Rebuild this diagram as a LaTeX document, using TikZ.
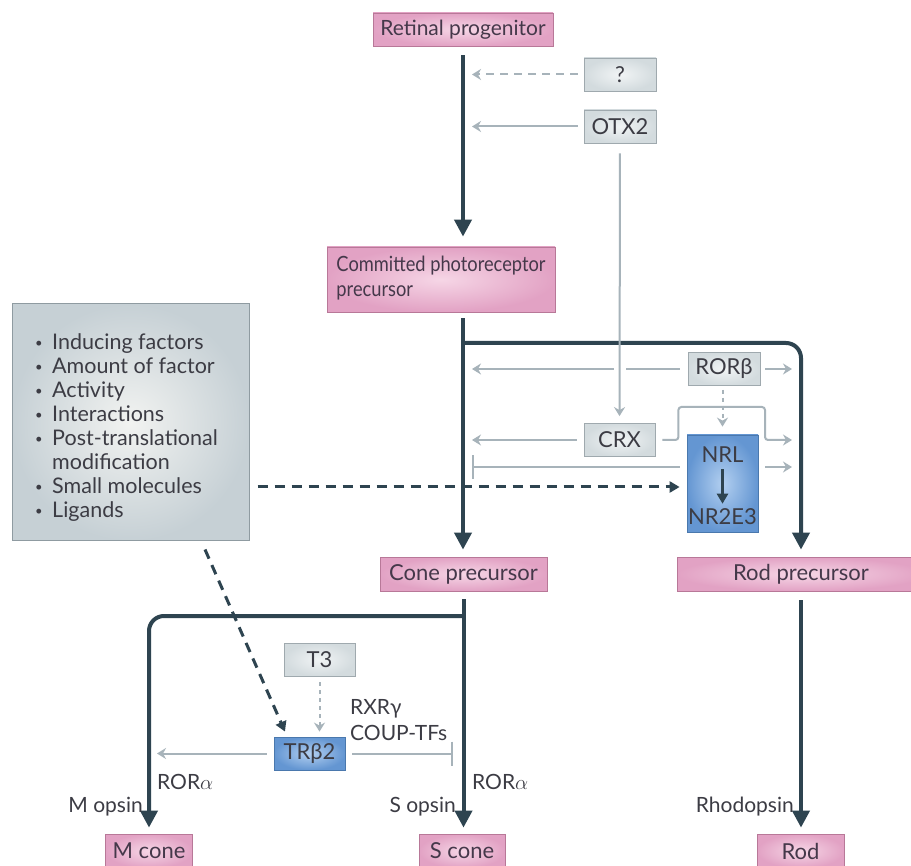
\documentclass[tikz,border=0pt]{standalone}
\usepackage{fontspec}
\setmainfont{Lato}
\usetikzlibrary{arrows.meta,calc}
\definecolor{dark}{HTML}{2E4450}
\definecolor{light}{HTML}{A7B3BA}
\definecolor{txt}{HTML}{3C3C44}
\definecolor{ptxt}{HTML}{45384A}
\definecolor{pinkedge}{HTML}{B87898}
\definecolor{pinkin}{HTML}{F6D6E6}
\definecolor{pinkout}{HTML}{E2A2C4}
\definecolor{sedge}{HTML}{9FA9AE}
\definecolor{sin}{HTML}{F1F4F5}
\definecolor{sout}{HTML}{D3DBDE}
\definecolor{gedge}{HTML}{8F9BA1}
\definecolor{gin}{HTML}{F2F3F1}
\definecolor{gout}{HTML}{C6D0D5}
\definecolor{bedge}{HTML}{4A78AD}
\definecolor{bin}{HTML}{B2CFF0}
\definecolor{bout}{HTML}{6496D2}
\newcommand\fs{\fontsize{22}{24}\selectfont}
\newcommand\fl{\fontsize{21}{26}\selectfont}
\newcommand\bul{\makebox[17pt][l]{\raisebox{2.5pt}{\fontsize{13}{13}\selectfont •}}}
\begin{document}
\begin{tikzpicture}[x=1pt,y=-1pt,
 pbox/.style={draw=pinkedge, line width=0.8pt, inner color=pinkin, outer color=pinkout, text=ptxt, font=\fs, inner sep=0pt, minimum height=34pt},
 sbox/.style={draw=sedge, line width=0.8pt, inner color=sin, outer color=sout, text=txt, font=\fs, inner sep=0pt, minimum width=72pt, minimum height=33pt},
 bbox/.style={draw=bedge, line width=0.8pt, inner color=bin, outer color=bout, text=txt, font=\fs, inner sep=0pt},
 gbox/.style={draw=gedge, line width=1pt, inner color=gin, outer color=gout, inner sep=0pt},
 dk/.style={draw=dark, line width=4pt},
 dkd/.style={draw=dark, line width=3pt, dash pattern=on 10pt off 7pt},
 lt/.style={draw=light, line width=2pt},
 dkh/.style={-{Triangle[length=17pt,width=17pt]}},
 dksh/.style={-{Triangle[length=10pt,width=11pt]}},
 lth/.style={-{Stealth[length=9pt,width=11pt,inset=3pt]}},
 lbar/.style={-{Bar[width=24pt,line width=2pt]}},
 ltd/.style={dash pattern=on 8pt off 6pt},
 lbl/.style={text=txt, font=\fl, inner sep=0pt},
]
\useasboundingbox (0,0) rectangle (911,866);
\fill[white] (0,0) rectangle (911,866);

% nodes
\node[pbox, minimum width=180pt, minimum height=33pt, font=\fontsize{21}{24}\selectfont] (rp) at (463,29.5) {Retinal progenitor};
\node[sbox] (q) at (620,74.5) {?};
\node[sbox] (otx) at (620,126.5) {OTX2};
\node[pbox, minimum width=228pt, minimum height=65pt, font=\fontsize{21}{25}\selectfont] (cpp) at (441,279.5) {\raisebox{-2pt}{\scalebox{0.87}[1]{\begin{tabular}{@{}l@{}}Committed photoreceptor\\precursor\end{tabular}}}};
\node[sbox] (rorb) at (724,369) {RORβ};
\node[sbox, minimum width=71pt] (crx) at (619.5,440) {CRX};
\node[bbox, minimum width=71pt, minimum height=97pt] (nrl) at (722.5,483.5) {};
\node[lbl, font=\fs] (nrlt) at (722.5,455) {NRL};
\node[lbl, font=\fs] (nr2) at (722.5,517) {NR2E3};
\node[gbox, minimum width=237pt, minimum height=237pt] (gl) at (130.5,422.5) {};
\node[lbl, anchor=base west, font=\fontsize{21.5}{24}\selectfont] (gltxt) at (35,350) {\begin{tabular}[t]{@{}l@{}l@{}}
\bul & Inducing factors\\
\bul & Amount of factor\\
\bul & Activity\\
\bul & Interactions\\
\bul & Post-translational\\
 & modification\\
\bul & Small molecules\\
\bul & Ligands
\end{tabular}};
\node[pbox, minimum width=167pt] (conep) at (463.5,574) {Cone precursor};
\node[pbox, minimum width=248pt] (rodp) at (801,574) {Rod precursor};
\node[sbox, minimum width=71pt] (t3) at (319.5,659.5) {T3};
\node[bbox, minimum width=71pt, minimum height=33pt] (trb) at (309.5,753.5) {TRβ2};
\node[pbox, minimum width=87pt] (mc) at (149,851) {M cone};
\node[pbox, minimum width=86pt] (sc) at (462,851) {S cone};
\node[pbox, minimum width=87pt] (rod) at (800.5,851) {Rod};

\coordinate (brs) at (463,343);
\coordinate (bs) at (463,616);

% top part
\draw[dk, dkh, shorten <=9pt, shorten >=10pt] (rp.south) -- (rp.south |- cpp.north);
\draw[lt, lth, ltd, shorten <=6pt, shorten >=9pt] (q.west) -- (q.west -| rp.south);
\draw[lt, lth, shorten <=6pt, shorten >=9pt] (otx.west) -- (otx.west -| rp.south);
\draw[dk, dkh, shorten <=6pt, shorten >=7pt] (rp.south |- cpp.south) -- (rp.south |- conep.north);
\draw[dk, dkh, rounded corners=15pt, shorten >=7pt] (brs) -| (rodp.north);

% ROR beta
\draw[lt, lth, shorten <=8pt, shorten >=9pt] (rorb.west) -- (rorb.west -| brs);
\draw[lt, lth, shorten <=5pt, shorten >=9pt] (rorb.east) -- (rorb.east -| rodp.north);
\draw[lt, lth, dash pattern=on 4pt off 4pt, shorten <=4pt, shorten >=8pt] (nrl.north |- rorb.south) -- (nrl.north);

% OTX2 to CRX, crossing the ROR beta line
\draw[white, line width=12pt] (otx.south |- rorb.west) ++(0,-3) -- ++(0,6);
\draw[lt, lth, shorten <=10pt, shorten >=7pt] (otx.south) -- (crx.north);

% CRX
\draw[lt, lth, shorten <=7pt, shorten >=9pt] (crx.west) -- (crx.west -| brs);
\draw[lt, lth, rounded corners=3pt, shorten >=9pt] ([xshift=7pt]crx.east) -- ([xshift=23pt]crx.east) |- (765,407) |- (crx.east -| rodp.north);

% NRL
\draw[dark, line width=3pt, dksh, shorten <=6pt, shorten >=5pt] (nrlt) -- (nr2);
\draw[lt, lbar, shorten <=7pt, shorten >=9pt] ([yshift=16.5pt]nrl.west) -- ([yshift=16.5pt]nrl.west -| brs);
\draw[lt, lth, shorten <=7pt, shorten >=9pt] ([yshift=16.5pt]nrl.east) -- ([yshift=16.5pt]nrl.east -| rodp.north);
\draw[dkd, dksh, shorten <=8pt, shorten >=7pt] ([yshift=-64.5pt]gl.east) -- ([yshift=-64.5pt]gl.east -| nrl.west);

% lower part
\draw[dk, dkh, shorten <=8pt, shorten >=6pt] (conep.south) -- (conep.south |- sc.north);
\draw[dk, dkh, rounded corners=15pt, shorten >=6pt] (bs) -| (mc.north);
\draw[dk, dkh, shorten <=9pt, shorten >=6pt] (rodp.south) -- (rodp.south |- rod.north);
\draw[dkd, dksh] ([xshift=74.5pt,yshift=-8pt]gl.south) -- ([xshift=-24.5pt,yshift=5pt]trb.north);
\draw[lt, lth, dash pattern=on 4pt off 4pt, shorten <=6pt, shorten >=5pt] (t3.south) -- (t3.south |- trb.north);
\draw[lt, lth, shorten <=7pt, shorten >=8pt] (trb.west) -- (trb.west -| mc.north);
\draw[lt, lbar, shorten <=7pt, shorten >=10pt] (trb.east) -- (trb.east -| bs);

% labels
\node[lbl, anchor=west, align=left] (rxr) at (350,720) {RXRγ\\COUP-TFs};
\node[lbl, anchor=west] (ra1) at (157,782) {ROR$\alpha$};
\node[lbl, anchor=east] (mo) at (143,807) {M opsin};
\node[lbl, anchor=west] (ra2) at (472,782) {ROR$\alpha$};
\node[lbl, anchor=east] (so) at (456,807) {S opsin};
\node[lbl, anchor=east] (rh) at (794,807) {Rhodopsin};
\end{tikzpicture}
\end{document}
